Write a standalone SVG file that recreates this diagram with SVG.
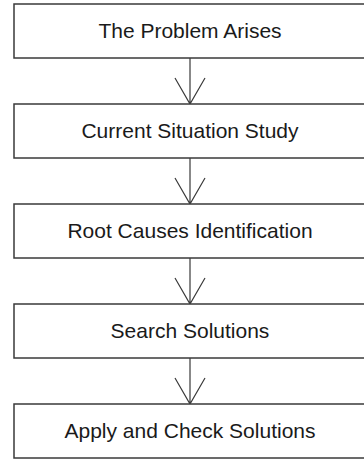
<svg xmlns="http://www.w3.org/2000/svg" width="364" height="459" viewBox="0 0 364 459">
<style>
.box{fill:#fff;stroke:#3a3a3a;stroke-width:1.5}
.lbl{font-family:"Liberation Sans",Arial,sans-serif;font-size:21px;fill:#1a1a1a;text-anchor:middle}
.con{fill:none;stroke:#3a3a3a;stroke-width:1.2}
</style>
<rect width="364" height="459" fill="#fff"/>
<g id="connectors">
<path class="con" d="M190,58V104M175,78L190,104L205,78"/>
<path class="con" d="M190,158V204M175,178L190,204L205,178"/>
<path class="con" d="M190,258V304M175,278L190,304L205,278"/>
<path class="con" d="M190,358V404M175,378L190,404L205,378"/>
</g>
<g id="n1"><rect class="box" x="14" y="4" width="360" height="54"/><text class="lbl" x="190" y="38">The Problem Arises</text></g>
<g id="n2"><rect class="box" x="14" y="104" width="360" height="54"/><text class="lbl" x="190" y="138">Current Situation Study</text></g>
<g id="n3"><rect class="box" x="14" y="204" width="360" height="54"/><text class="lbl" x="190" y="238">Root Causes Identification</text></g>
<g id="n4"><rect class="box" x="14" y="304" width="360" height="54"/><text class="lbl" x="190" y="338">Search Solutions</text></g>
<g id="n5"><rect class="box" x="14" y="404" width="360" height="54"/><text class="lbl" x="190" y="438">Apply and Check Solutions</text></g>
</svg>
